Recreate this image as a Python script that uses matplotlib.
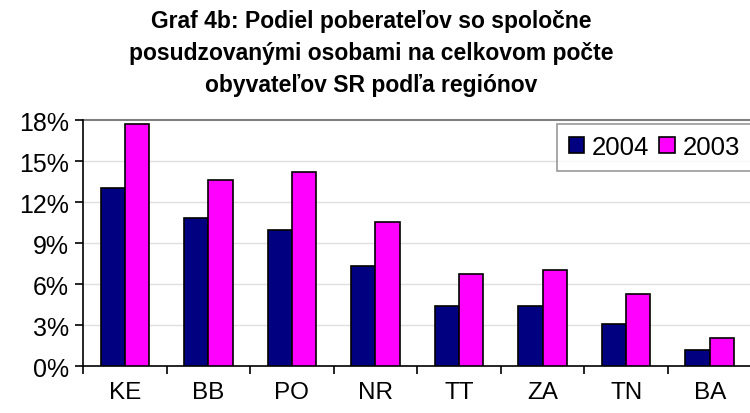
import numpy as np
import matplotlib.pyplot as plt
from matplotlib.ticker import FuncFormatter, FixedLocator

regiony = ['KE', 'BB', 'PO', 'NR', 'TT', 'ZA', 'TN', 'BA']
podiel_2004 = [13.0, 10.85, 9.97, 7.34, 4.41, 4.41, 3.07, 1.19]
podiel_2003 = [17.7, 13.63, 14.2, 10.53, 6.75, 7.05, 5.29, 2.07]

plt.rcParams['font.family'] = ['Liberation Sans', 'DejaVu Sans']

fig = plt.figure(figsize=(7.5, 4.14), dpi=100)
ax = fig.add_axes([0.1107, 0.1135, 0.8913, 0.5942])

x = np.arange(len(regiony))
sirka = 0.29
ax.bar(x - sirka / 2, podiel_2004, sirka, color='#000080', edgecolor='black',
       linewidth=1.2, label='2004', zorder=3)
ax.bar(x + sirka / 2, podiel_2003, sirka, color='#FF00FF', edgecolor='black',
       linewidth=1.2, label='2003', zorder=3)

ax.set_xlim(-0.5, len(regiony) - 0.5)
ax.set_ylim(0, 18)
ax.set_yticks([0, 3, 6, 9, 12, 15, 18])
ax.yaxis.set_major_formatter(FuncFormatter(lambda v, p: '%d%%' % v))
ax.tick_params(axis='y', labelsize=18, length=6, width=1.2, direction='out', pad=4)

ax.set_xticks(x)
ax.set_xticklabels(regiony)
ax.xaxis.set_minor_locator(FixedLocator(np.arange(-0.5, len(regiony), 1.0)))
ax.tick_params(axis='x', which='major', length=0, labelsize=17.5, pad=11)
ax.tick_params(axis='x', which='minor', length=6, width=1.2, direction='out')

# mriezka
for v in [3, 6, 9, 12, 15]:
    ax.axhline(v, color='#e0e0e0', linewidth=1, zorder=1)
ax.axhline(18, color='#808080', linewidth=1.5, zorder=1, clip_on=False)

ax.spines['top'].set_visible(False)
ax.spines['right'].set_visible(False)
ax.spines['left'].set_linewidth(1.2)
ax.spines['bottom'].set_linewidth(1.2)

leg = ax.legend(loc='upper right', bbox_to_anchor=(1.0, 0.985), ncol=2, fontsize=18.5,
                frameon=True, fancybox=False, handlelength=0.6, handleheight=0.6,
                handletextpad=0.3, columnspacing=0.4, borderpad=0.45,
                borderaxespad=0.0)
leg.get_frame().set_edgecolor('#808080')
leg.get_frame().set_linewidth(1.2)

fig.text(0.495, 0.975, 'Graf 4b: Podiel poberateľov so spoločne\n'
         'posudzovanými osobami na celkovom počte\n'
         'obyvateľov SR podľa regiónov',
         ha='center', va='top', fontsize=16.5, fontweight='bold', linespacing=1.5)

fig.savefig('out.png', dpi=100)
